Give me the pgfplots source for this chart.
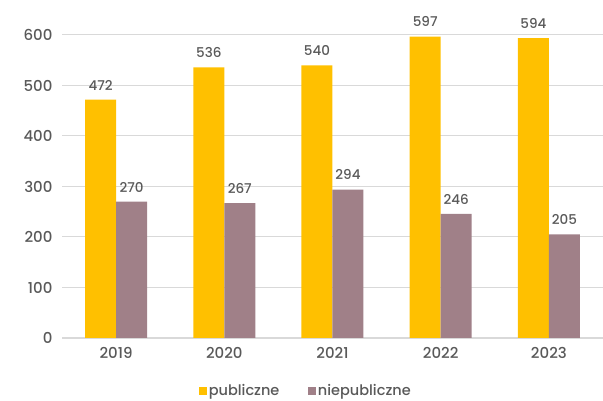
\documentclass[border=0pt]{standalone}
\usepackage{fontspec}
\setmainfont{Poppins}[UprightFont={* Medium}]
\usepackage{pgfplots}
\pgfplotsset{compat=1.18}
\definecolor{pubyellow}{HTML}{FFC000}
\definecolor{niepub}{HTML}{A08088}
\definecolor{txtgray}{HTML}{595959}
\definecolor{gridgray}{HTML}{D9D9D9}

\begin{document}
\begin{tikzpicture}
  \useasboundingbox (0,0) rectangle (603pt,401pt);
  \begin{axis}[
      at={(62pt,63pt)},
      anchor=south west,
      scale only axis,
      width=541pt,
      height=303pt,
      ybar=0pt,
      bar width=31pt,
      xmin=-0.5, xmax=4.5,
      ymin=0, ymax=600,
      xtick={0,1,2,3,4},
      xticklabels={2019,2020,2021,2022,2023},
      ytick={0,100,...,600},
      ymajorgrids,
      grid style={gridgray, line width=1pt},
      axis x line*=bottom,
      axis y line*=left,
      y axis line style={draw=none},
      x axis line style={gridgray, line width=1.6pt},
      major tick length=0pt,
      xticklabel style={font=\fontsize{15}{17}\selectfont, text=txtgray, yshift=-6pt},
      yticklabel style={font=\fontsize{15}{17}\selectfont, text=txtgray, xshift=-6pt},
      /pgf/number format/assume math mode=true,
      nodes near coords,
      every node near coord/.append style={font=\fontsize{13.5}{15}\selectfont, text=txtgray, yshift=6pt},
      legend style={
        draw=none, fill=none,
        at={(0.451,-0.175)}, anchor=center,
        font=\fontsize{14.5}{16}\selectfont, text=txtgray,
        /tikz/every even column/.append style={column sep=27pt}
      },
      legend columns=2,
      legend image code/.code={\fill[#1] (0pt,-4pt) rectangle (7.5pt,4pt);},
      clip=false
    ]
    \addplot[fill=pubyellow, draw=none] coordinates {(0,472) (1,536) (2,540) (3,597) (4,594)};
    \addlegendentry{publiczne}
    \addplot[fill=niepub, draw=none] coordinates {(0,270) (1,267) (2,294) (3,246) (4,205)};
    \addlegendentry{niepubliczne}
  \end{axis}
\end{tikzpicture}
\end{document}
